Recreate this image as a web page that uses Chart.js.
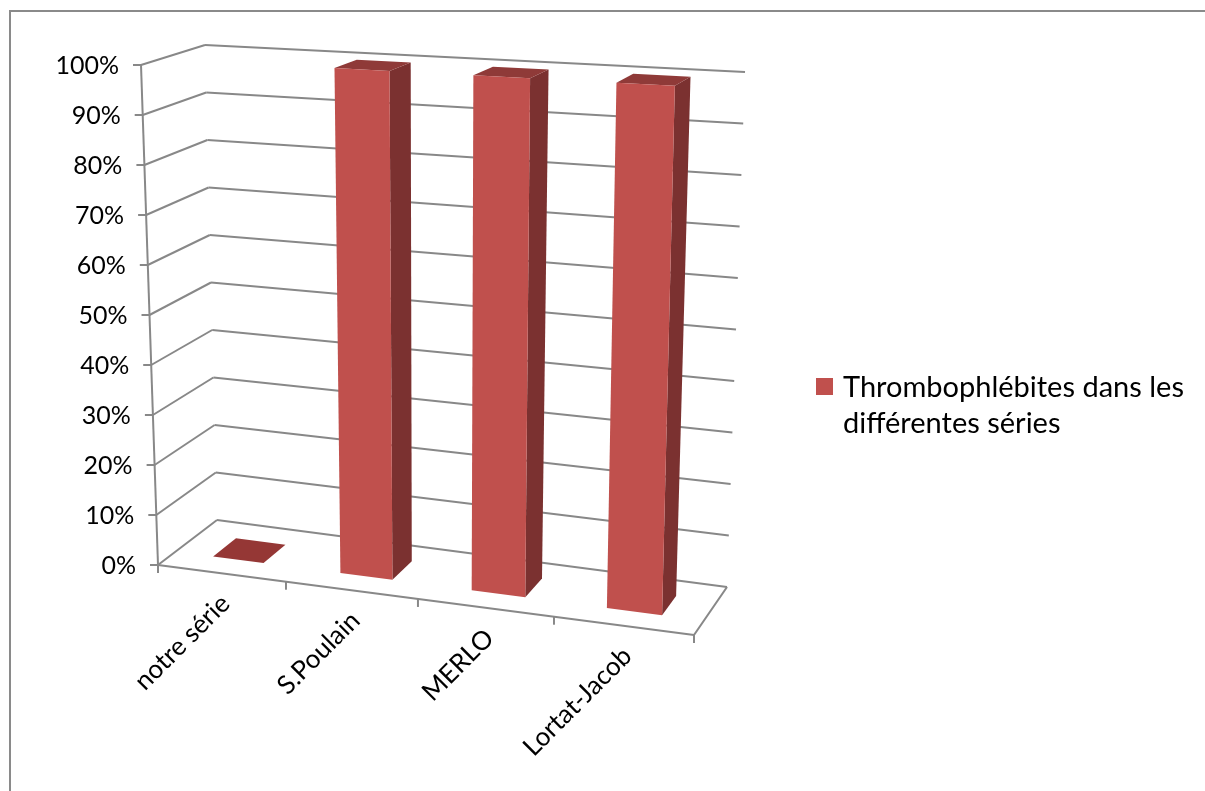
<!DOCTYPE html>
<html>
<head>
<meta charset="utf-8">
<script src="https://cdn.jsdelivr.net/npm/chart.js@4/dist/chart.umd.min.js"></script>
<style>
  html, body { margin: 0; padding: 0; background: #fff; }
  #wrap { width: 1205px; height: 791px; position: relative; }
</style>
</head>
<body>
<div id="wrap"><canvas id="c" width="1205" height="791"></canvas></div>
<script>
// ---- data ----
const categories = ['notre série', 'S.Poulain', 'MERLO', 'Lortat-Jacob'];
const values = [0, 100, 100, 100];
const seriesLabel = 'Thrombophlébites dans les différentes séries';
const legendLines = ['Thrombophlébites dans les', 'différentes séries'];
const yTicks = [0, 10, 20, 30, 40, 50, 60, 70, 80, 90, 100];

// ---- styling ----
const FONT = 'Lato, "Open Sans", "Liberation Sans", sans-serif';
const GRID = '#888888';
const FRONT = '#c0504d';
const SIDE = '#7b3130';
const TOP = '#8f3a38';
const FLAT = '#953735';

// corners of the 3D plot box (front/back, left/right, bottom/top)
const BOX = {
  FLB: [158, 565], FLT: [141, 65],
  FRB: [694, 635], FRT: [708, 95],
  BLB: [217, 520], BLT: [205, 45],
  BRB: [727, 587], BRT: [745, 72]
};
const DEPTH0 = 0.3, DEPTH1 = 0.7;

function lerp(a, b, t) { return [a[0] + (b[0] - a[0]) * t, a[1] + (b[1] - a[1]) * t]; }
// slight foreshortening along the category axis
function warpU(u) { return u * (0.94 + 0.06 * u); }
// project (u: category fraction, v: value fraction, z: depth fraction) to canvas
function P(u, v, z) {
  const w = warpU(u);
  const fb = lerp(BOX.FLB, BOX.FRB, w), ft = lerp(BOX.FLT, BOX.FRT, w);
  const bb = lerp(BOX.BLB, BOX.BRB, w), bt = lerp(BOX.BLT, BOX.BRT, w);
  return lerp(lerp(fb, ft, v), lerp(bb, bt, v), z);
}

function line(ctx, a, b) { ctx.beginPath(); ctx.moveTo(a[0], a[1]); ctx.lineTo(b[0], b[1]); ctx.stroke(); }
function poly(ctx, pts, color) {
  ctx.beginPath();
  ctx.moveTo(pts[0][0], pts[0][1]);
  for (let i = 1; i < pts.length; i++) ctx.lineTo(pts[i][0], pts[i][1]);
  ctx.closePath();
  ctx.fillStyle = color;
  ctx.fill();
}

const box3d = {
  id: 'box3d',
  beforeDatasetsDraw(chart) {
    const ctx = chart.ctx, ca = chart.chartArea;
    const ys = chart.scales.y, xs = chart.scales.x;
    const vOf = val => (ca.bottom - ys.getPixelForValue(val)) / ca.height;
    const uOf = px => (px - ca.left) / ca.width;
    ctx.save();

    // outer frame
    ctx.strokeStyle = '#8a8a8a';
    ctx.lineWidth = 2;
    line(ctx, [10, 11], [10, 791]);
    line(ctx, [9, 11], [1205, 11]);

    // walls: side and back gridlines
    ctx.strokeStyle = GRID;
    ctx.lineWidth = 2;
    ctx.lineCap = 'butt';
    yTicks.forEach(t => {
      const v = vOf(t);
      line(ctx, P(0, v, 0), P(0, v, 1));
      line(ctx, P(0, v, 1), P(1, v, 1));
    });
    // floor outline
    line(ctx, P(0, 0, 0), P(1, 0, 0));
    line(ctx, P(1, 0, 0), P(1, 0, 1));
    // value axis
    line(ctx, P(0, 0, 0), P(0, 1, 0));

    // value ticks and labels
    ctx.fillStyle = '#000';
    ctx.font = '25px ' + FONT;
    ctx.textAlign = 'right';
    ctx.textBaseline = 'middle';
    yTicks.forEach(t => {
      const p = P(0, vOf(t), 0);
      line(ctx, [p[0] - 8, p[1]], p);
      ctx.fillText(t + '%', p[0] - 22, p[1] + 1);
    });

    // category boundary ticks
    const n = categories.length;
    const bounds = [ca.left];
    for (let i = 1; i < n; i++) bounds.push((xs.getPixelForValue(i - 1) + xs.getPixelForValue(i)) / 2);
    bounds.push(ca.right);
    bounds.forEach(px => {
      const p = P(uOf(px), 0, 0);
      line(ctx, p, [p[0], p[1] + 8]);
    });

    // category labels, rotated
    ctx.font = '26px ' + FONT;
    ctx.textAlign = 'right';
    ctx.textBaseline = 'middle';
    categories.forEach((c, i) => {
      const p = P(uOf(xs.getPixelForValue(i)), 0, 0);
      ctx.save();
      ctx.translate(p[0] + 4, p[1] + 26);
      ctx.rotate(-Math.PI / 4);
      ctx.fillText(c, 0, 0);
      ctx.restore();
    });
    ctx.restore();
  },
  afterDatasetsDraw(chart) {
    const ctx = chart.ctx, ca = chart.chartArea;
    const meta = chart.getDatasetMeta(0);
    ctx.save();
    meta.data.forEach(el => {
      const { x, y, width } = el.getProps(['x', 'y', 'width'], true);
      const u0 = (x - width / 2 - ca.left) / ca.width;
      const u1 = (x + width / 2 - ca.left) / ca.width;
      const v = Math.max(0, (ca.bottom - y) / ca.height);
      const topFace = [P(u0, v, DEPTH0), P(u1, v, DEPTH0), P(u1, v, DEPTH1), P(u0, v, DEPTH1)];
      if (v < 0.002) { poly(ctx, topFace, FLAT); return; }
      poly(ctx, [P(u1, 0, DEPTH0), P(u1, 0, DEPTH1), P(u1, v, DEPTH1), P(u1, v, DEPTH0)], SIDE);
      poly(ctx, topFace, TOP);
      poly(ctx, [P(u0, 0, DEPTH0), P(u1, 0, DEPTH0), P(u1, v, DEPTH0), P(u0, v, DEPTH0)], FRONT);
    });

    // legend
    ctx.fillStyle = FRONT;
    ctx.fillRect(816, 378, 17, 17);
    ctx.fillStyle = '#000';
    ctx.font = '29px ' + FONT;
    ctx.textAlign = 'left';
    ctx.textBaseline = 'alphabetic';
    legendLines.forEach((t, i) => ctx.fillText(t, 843, 397 + i * 36));
    ctx.restore();
  }
};

new Chart(document.getElementById('c'), {
  type: 'bar',
  data: {
    labels: categories,
    datasets: [{
      label: seriesLabel,
      data: values,
      backgroundColor: 'rgba(0,0,0,0)',
      borderWidth: 0,
      barPercentage: 0.4,
      categoryPercentage: 1
    }]
  },
  options: {
    responsive: false,
    animation: false,
    events: [],
    layout: { padding: 20 },
    plugins: { legend: { display: false }, tooltip: { enabled: false } },
    scales: {
      x: { display: false, offset: true },
      y: { display: false, min: 0, max: 100 }
    }
  },
  plugins: [box3d]
});
</script>
</body>
</html>
